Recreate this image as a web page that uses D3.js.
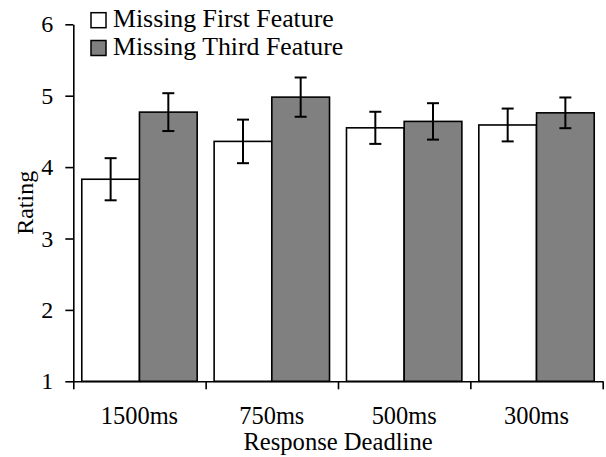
<!DOCTYPE html>
<html>
<head>
<meta charset="utf-8">
<script src="https://cdn.jsdelivr.net/npm/d3@7"></script>
<style>
  body { margin: 0; background: #fff; }
  text { font-family: "Liberation Serif", "Times New Roman", serif; fill: #000; }
</style>
</head>
<body>
<div id="chart"></div>
<script>
// values
const deadlines = ["1500ms", "750ms", "500ms", "300ms"];
const seriesNames = ["Missing First Feature", "Missing Third Feature"];
const firstFeature = [3.83, 4.36, 4.55, 4.59];
const firstFeatureErr = [0.295, 0.305, 0.225, 0.23];
const thirdFeature = [4.77, 4.98, 4.64, 4.76];
const thirdFeatureErr = [0.265, 0.275, 0.255, 0.215];
const ratingTicks = [1, 2, 3, 4, 5, 6];
const fills = ["#ffffff", "#808080"];

const width = 606, height = 457;
const plotLeft = 73.3, plotRight = 602.7, plotTop = 24.3, plotBottom = 381.3;

const svg = d3.select("#chart").append("svg")
  .attr("width", width)
  .attr("height", height);

const x = d3.scaleBand().domain(deadlines).range([plotLeft, plotRight]).padding(0);
const xBounds = d3.scaleLinear().domain([0, deadlines.length]).range([plotLeft, plotRight]);
const x1 = d3.scaleBand().domain(seriesNames).range([0, x.bandwidth()])
  .paddingInner(0).paddingOuter(0.147);
const y = d3.scaleLinear().domain([1, 6]).range([plotBottom, plotTop]);

const rows = deadlines.map((d, i) => [
  { cat: d, s: seriesNames[0], v: firstFeature[i], e: firstFeatureErr[i] },
  { cat: d, s: seriesNames[1], v: thirdFeature[i], e: thirdFeatureErr[i] }
]).flat();

const color = d3.scaleOrdinal().domain(seriesNames).range(fills);

// bars
svg.append("g").selectAll("rect")
  .data(rows).enter().append("rect")
  .attr("x", d => x(d.cat) + x1(d.s))
  .attr("y", d => y(d.v))
  .attr("width", x1.bandwidth())
  .attr("height", d => y(1) - y(d.v))
  .style("fill", d => color(d.s))
  .style("stroke", "#000")
  .style("stroke-width", 1.6);

// error bars
const capW = 12;
const err = svg.append("g").selectAll("g")
  .data(rows).enter().append("g")
  .attr("transform", d => "translate(" + (x(d.cat) + x1(d.s) + x1.bandwidth() / 2) + ",0)")
  .style("stroke", "#000")
  .style("stroke-width", 2);

err.append("line")
  .attr("x1", 0).attr("x2", 0)
  .attr("y1", d => y(d.v + d.e))
  .attr("y2", d => y(d.v - d.e));
err.append("line")
  .attr("x1", -capW / 2).attr("x2", capW / 2)
  .attr("y1", d => y(d.v + d.e))
  .attr("y2", d => y(d.v + d.e));
err.append("line")
  .attr("x1", -capW / 2).attr("x2", capW / 2)
  .attr("y1", d => y(d.v - d.e))
  .attr("y2", d => y(d.v - d.e));

// y axis
const yAxis = svg.append("g")
  .attr("transform", "translate(" + plotLeft + ",0)")
  .call(d3.axisLeft(y).tickValues(ratingTicks).tickFormat(d3.format("d"))
    .tickSize(8).tickSizeOuter(0).tickPadding(12));
yAxis.selectAll("text").style("font-size", "24px").style("font-family", "Liberation Serif");
yAxis.selectAll("path, line").style("stroke", "#000").style("stroke-width", 1.6);

// x axis: ticks on category boundaries, labels centered
const xTickAxis = svg.append("g")
  .attr("transform", "translate(0," + plotBottom + ")")
  .call(d3.axisBottom(xBounds).tickValues(d3.range(deadlines.length + 1))
    .tickFormat("").tickSize(8).tickSizeOuter(0));
xTickAxis.selectAll("path, line").style("stroke", "#000").style("stroke-width", 1.6);

const xLabels = svg.append("g")
  .attr("transform", "translate(0," + plotBottom + ")")
  .call(d3.axisBottom(x).tickSize(0).tickPadding(25));
xLabels.select(".domain").remove();
xLabels.selectAll("text").style("font-size", "24.4px").style("font-family", "Liberation Serif");

// axis titles
svg.append("text")
  .attr("x", (plotLeft + plotRight) / 2)
  .attr("y", 450)
  .attr("text-anchor", "middle")
  .style("font-size", "24.6px")
  .text("Response Deadline");

svg.append("text")
  .attr("transform", "translate(33," + ((plotTop + plotBottom) / 2) + ") rotate(-90)")
  .attr("text-anchor", "middle")
  .style("font-size", "24px")
  .text("Rating");

// legend
const legend = svg.append("g").selectAll("g")
  .data(seriesNames).enter().append("g")
  .attr("transform", (d, i) => "translate(91," + (12.7 + i * 27.8) + ")");
legend.append("rect")
  .attr("width", 15).attr("height", 15)
  .style("fill", d => color(d))
  .style("stroke", "#000")
  .style("stroke-width", 1.5);
legend.append("text")
  .attr("x", 22)
  .attr("y", 14.5)
  .style("font-size", "25.8px")
  .text(d => d);
</script>
</body>
</html>
